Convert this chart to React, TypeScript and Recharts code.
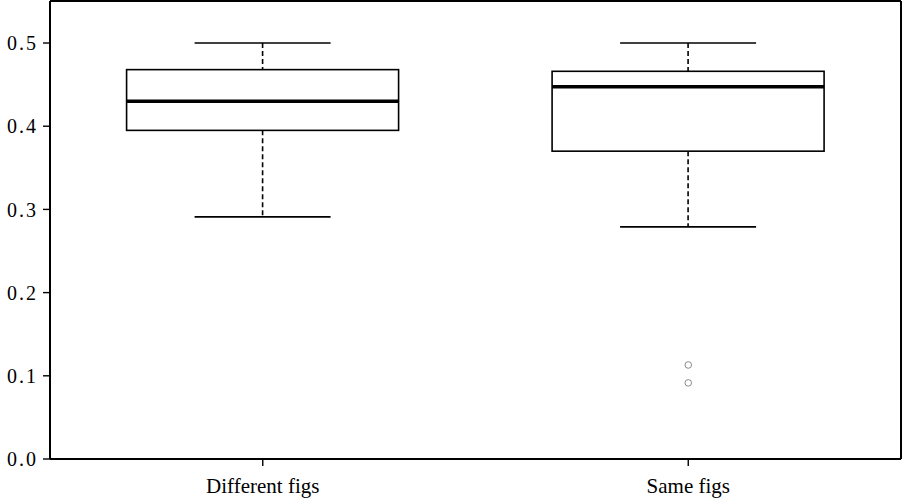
import React from 'react';
import { ComposedChart, Bar, Scatter, XAxis, YAxis } from 'recharts';

// group labels
const groups = ['Different figs', 'Same figs'];
// five-number summaries per group
const lowWhisker = [0.291, 0.279];
const q1 = [0.395, 0.37];
const median = [0.43, 0.4475];
const q3 = [0.468, 0.466];
const highWhisker = [0.5, 0.5];
// outliers (Same figs only)
const outlierGroup = ['Same figs', 'Same figs'];
const outlierValue = [0.113, 0.0915];
const yTicks = [0, 0.1, 0.2, 0.3, 0.4, 0.5];

const boxData = groups.map((name, i) => ({
    name,
    range: [lowWhisker[i], highWhisker[i]],
    lo: lowWhisker[i],
    q1: q1[i],
    med: median[i],
    q3: q3[i],
    hi: highWhisker[i],
}));

const outliers = outlierGroup.map((name, i) => ({ name, v: outlierValue[i] }));

const serif = '"Liberation Serif", "DejaVu Serif", serif';
const frame = { stroke: '#000', strokeWidth: 2 };

// Bar spans lo..hi; the rest of the box is placed along the same linear scale
function BoxShape(props: any) {
    const { x, y, width, height, payload } = props;
    if (!payload) return null;
    const { lo, q1, med, q3, hi } = payload;
    const k = height / (hi - lo);
    const py = (v: number) => y + (hi - v) * k;
    const cx = x + width / 2;
    const capW = width / 2;
    return (
        <g>
            <line x1={cx} x2={cx} y1={py(hi)} y2={py(q3)} stroke="#000" strokeWidth={1.6} strokeDasharray="5 3" />
            <line x1={cx} x2={cx} y1={py(q1)} y2={py(lo)} stroke="#000" strokeWidth={1.6} strokeDasharray="5 3" />
            <line x1={cx - capW / 2} x2={cx + capW / 2} y1={py(hi)} y2={py(hi)} stroke="#000" strokeWidth={1.6} />
            <line x1={cx - capW / 2} x2={cx + capW / 2} y1={py(lo)} y2={py(lo)} stroke="#000" strokeWidth={1.6} />
            <rect x={x} y={py(q3)} width={width} height={py(q1) - py(q3)} fill="#fff" stroke="#000" strokeWidth={1.6} />
            <line x1={x} x2={x + width} y1={py(med)} y2={py(med)} stroke="#000" strokeWidth={3.4} />
        </g>
    );
}

function OutlierDot(props: any) {
    const { cx, cy } = props;
    return <circle cx={cx} cy={cy} r={3.3} fill="none" stroke="#8a8a8a" strokeWidth={1} />;
}

export default function App() {
    return (
        <div style={{ position: 'absolute', left: 0, top: 0, background: '#fff' }}>
            <ComposedChart
                width={904}
                height={501}
                data={boxData}
                margin={{ top: 0, right: 0, left: 0, bottom: 0 }}
                barCategoryGap="18%"
            >
                <XAxis
                    dataKey="name"
                    type="category"
                    allowDuplicatedCategory={false}
                    axisLine={frame}
                    tickLine={{ stroke: '#000', strokeWidth: 1.4 }}
                    tickSize={7}
                    tickMargin={12}
                    height={42}
                    tick={{ fill: '#000', fontSize: 21, fontFamily: serif }}
                />
                <XAxis
                    xAxisId="top"
                    orientation="top"
                    dataKey="name"
                    allowDuplicatedCategory={false}
                    height={1}
                    tick={false}
                    tickLine={false}
                    axisLine={frame}
                />
                <YAxis
                    yAxisId="v"
                    type="number"
                    domain={[0, 0.5505]}
                    ticks={yTicks}
                    width={50}
                    tickSize={7}
                    tickMargin={5}
                    axisLine={frame}
                    tickLine={{ stroke: '#000', strokeWidth: 1.4 }}
                    tickFormatter={(v: number) => v.toFixed(1)}
                    tick={{ fill: '#000', fontSize: 20, fontFamily: serif, letterSpacing: 2 }}
                />
                <YAxis
                    yAxisId="right"
                    orientation="right"
                    width={3}
                    tick={false}
                    tickLine={false}
                    axisLine={frame}
                />
                <Bar yAxisId="v" dataKey="range" shape={<BoxShape />} isAnimationActive={false} />
                <Scatter
                    yAxisId="v"
                    data={outliers}
                    dataKey="v"
                    shape={<OutlierDot />}
                    isAnimationActive={false}
                />
            </ComposedChart>
        </div>
    );
}
